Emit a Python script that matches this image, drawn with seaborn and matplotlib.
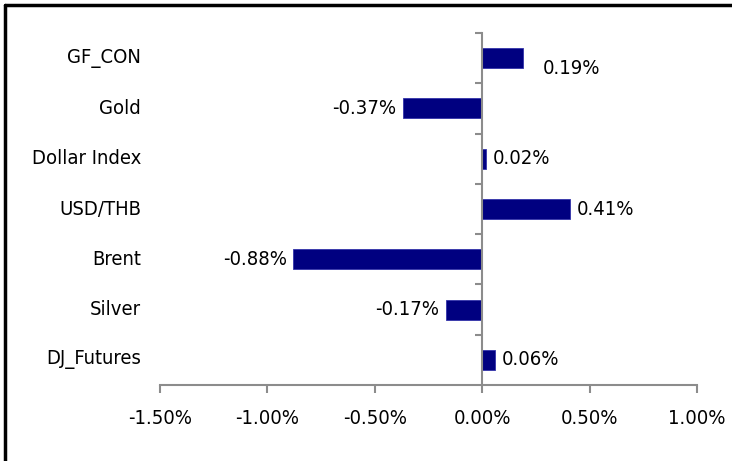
import matplotlib
matplotlib.use("Agg")
import matplotlib.pyplot as plt
import matplotlib.transforms as mtransforms
from matplotlib.lines import Line2D
import pandas as pd
import seaborn as sns

categories = ["GF_CON", "Gold", "Dollar Index", "USD/THB", "Brent", "Silver", "DJ_Futures"]
values = [0.19, -0.37, 0.02, 0.41, -0.88, -0.17, 0.06]
value_labels = ["0.19%", "-0.37%", "0.02%", "0.41%", "-0.88%", "-0.17%", "0.06%"]
xticks = [-1.5, -1.0, -0.5, 0.0, 0.5, 1.0]
xtick_labels = ["-1.50%", "-1.00%", "-0.50%", "0.00%", "0.50%", "1.00%"]

sns.set_style("white")
plt.rcParams["font.family"] = ["DejaVu Sans"]
plt.rcParams["font.stretch"] = "condensed"

df = pd.DataFrame({"name": categories, "change": values})

fig = plt.figure(figsize=(7.32, 4.61), dpi=100)
ax = fig.add_axes([160 / 732, 1 - 385 / 461, 537 / 732, 352 / 461])

sns.barplot(data=df, x="change", y="name", orient="h", color="#000080",
            width=0.4, saturation=1, ax=ax, edgecolor="#3333aa", linewidth=0.6)

ax.set_xlim(-1.5, 1.0)
ax.set_ylim(6.5, -0.5)
ax.set_xlabel("")
ax.set_ylabel("")

grey = "#8c8c8c"
fs = 14.5
for s in ["top", "right"]:
    ax.spines[s].set_visible(False)
ax.spines["left"].set_position(("data", 0))
ax.spines["left"].set_color(grey)
ax.spines["bottom"].set_color(grey)
ax.spines["left"].set_linewidth(1.5)
ax.spines["bottom"].set_linewidth(1.5)

ax.set_xticks(xticks)
ax.set_xticklabels(xtick_labels, fontsize=fs, color="black")
ax.tick_params(axis="x", bottom=True, direction="out", length=6, width=1.5,
               color=grey, pad=11)

# category boundary ticks on the zero axis
ax.set_yticks([i - 0.5 for i in range(len(categories))])
ax.set_yticklabels([])
ax.tick_params(axis="y", left=True, direction="out", length=5, width=1.5, color=grey)

# category names at the far left
trans = mtransforms.blended_transform_factory(ax.transAxes, ax.transData)
for i, name in enumerate(categories):
    ax.text(-19 / 537, i, name, transform=trans, ha="right", va="center",
            fontsize=fs, color="black")

# value labels next to each bar
for i, (v, lab) in enumerate(zip(values, value_labels)):
    if v >= 0:
        dy = 0.2 if i == 0 else 0.0
        dx = 0.09 if i == 0 else 0.03
        ax.text(v + dx, i + dy, lab, ha="left", va="center", fontsize=fs, color="black")
    else:
        ax.text(v - 0.03, i, lab, ha="right", va="center", fontsize=fs, color="black")

# outer chart frame (left and top edges visible)
fig.add_artist(Line2D([5 / 732, 5 / 732], [0, 1 - 5 / 461], color="black", lw=2.5,
                      transform=fig.transFigure))
fig.add_artist(Line2D([5 / 732, 1], [1 - 5 / 461, 1 - 5 / 461], color="black", lw=2.5,
                      transform=fig.transFigure))

fig.savefig("out.png", dpi=100)
